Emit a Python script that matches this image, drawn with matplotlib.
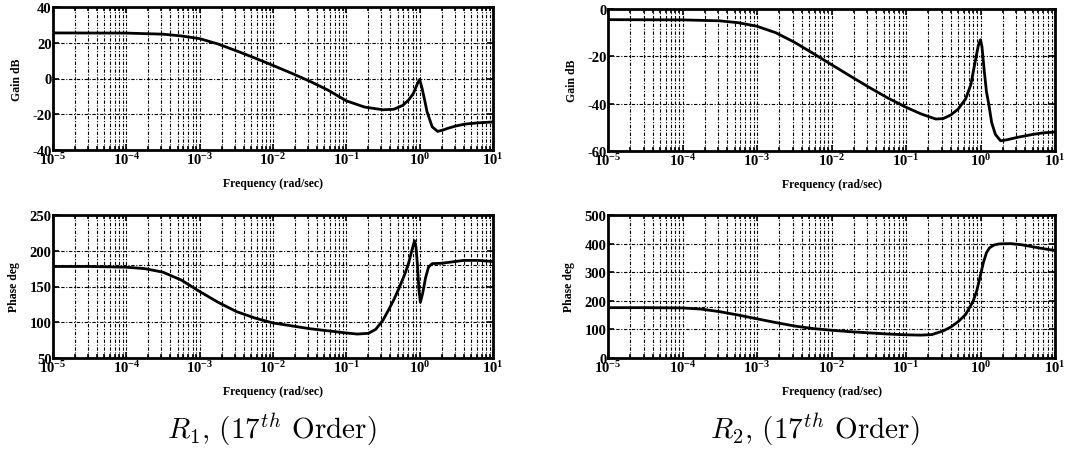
import numpy as np
import matplotlib
matplotlib.use("Agg")
import matplotlib.pyplot as plt
from matplotlib.ticker import LogLocator, NullFormatter

plt.rcParams['font.family'] = ['Liberation Serif', 'DejaVu Serif']
plt.rcParams['font.weight'] = 'bold'
plt.rcParams['mathtext.fontset'] = 'custom'
plt.rcParams['mathtext.rm'] = 'Liberation Serif:bold'
plt.rcParams['mathtext.it'] = 'Liberation Serif:bold'
plt.rcParams['mathtext.bf'] = 'Liberation Serif:bold'
plt.rcParams['axes.unicode_minus'] = False

# ---------------- data (log10 frequency, value) ----------------
r1_gain_logw = [-5, -4, -3.5, -3.25, -3.0, -2.75, -2.5, -2.25, -2.0, -1.75, -1.5, -1.25,
                -1.0, -0.75, -0.5, -0.35, -0.23, -0.15, -0.085, -0.03, 0.0, 0.033, 0.07,
                0.1, 0.17, 0.245, 0.32, 0.39, 0.5, 0.62, 0.8, 1.0]
r1_gain_db = [25.5, 25.4, 24.8, 23.8, 22.3, 19.3, 15.5, 11.5, 7.3, 3.0, -1.5, -6.5,
              -12.5, -16.0, -17.5, -17.2, -15.0, -12.0, -8.3, -2.8, -0.5, -5.5, -12.5,
              -18.5, -27.0, -29.6, -28.8, -27.8, -26.5, -25.5, -24.8, -24.3]

r2_gain_logw = [-5, -4.0, -3.5, -3.25, -3.0, -2.75, -2.5, -2.25, -2.0, -1.75, -1.5, -1.25,
                -1.0, -0.8, -0.6, -0.5, -0.4, -0.3, -0.2, -0.13, -0.07, -0.03, 0.0, 0.02,
                0.05, 0.08, 0.11, 0.15, 0.2, 0.27, 0.35, 0.5, 0.7, 0.85, 1.0]
r2_gain_db = [-4.5, -4.6, -5.0, -5.8, -7.3, -10.0, -14.0, -18.7, -23.5, -28.3, -33.0, -37.5,
              -41.5, -44.3, -46.5, -46.3, -44.8, -42.3, -38.0, -32.0, -22.0, -15.5, -13.0, -16.0,
              -26.0, -35.0, -40.0, -48.0, -53.0, -55.7, -55.3, -54.2, -53.0, -52.3, -52.0]

r1_phase_logw = [-5, -4.5, -4.0, -3.75, -3.5, -3.25, -3.0, -2.75, -2.5, -2.25, -2.0, -1.75,
                 -1.5, -1.25, -1.0, -0.85, -0.7, -0.6, -0.5, -0.42, -0.35, -0.28, -0.2,
                 -0.15, -0.1, -0.07, -0.05, -0.03, -0.01, 0.01, 0.04, 0.08, 0.12, 0.17,
                 0.3, 0.45, 0.6, 0.8, 1.0]
r1_phase_deg = [178, 178, 177, 175, 170, 159, 143, 128, 115, 106, 99, 95,
                91, 88, 85, 83.5, 84.5, 90, 103, 118, 132, 148, 168,
                183, 203, 214, 205, 180, 145, 128, 140, 162, 177, 182,
                182.5, 184.5, 186.5, 186.5, 185]

r2_phase_logw = [-5, -4.5, -4.0, -3.75, -3.5, -3.25, -3.0, -2.75, -2.5, -2.25, -2.0, -1.75,
                 -1.5, -1.25, -1.0, -0.8, -0.65, -0.5, -0.4, -0.3, -0.2, -0.1, -0.05, 0.0,
                 0.04, 0.08, 0.12, 0.18, 0.25, 0.4, 0.55, 0.7, 0.85, 1.0]
r2_phase_deg = [176, 176, 175, 171, 162, 150, 137, 124, 112, 103, 97, 92,
                88, 84, 81, 80, 82, 95, 108, 127, 152, 198, 235, 290,
                335, 368, 385, 395, 399, 400, 396, 389, 382, 376]

gain_yticks_1 = [-40, -20, 0, 20, 40]
gain_yticks_2 = [-60, -40, -20, 0]
phase_yticks_1 = [50, 100, 150, 200, 250]
phase_yticks_2 = [0, 100, 200, 300, 400, 500]
xdecades = [-5, -4, -3, -2, -1, 0, 1]

titles = [r"$R_1$, (17$^{th}$ Order)", r"$R_2$, (17$^{th}$ Order)"]

# ---------------- figure ----------------
W, H = 1073, 460
fig = plt.figure(figsize=(W / 100, H / 100), dpi=100)


def add_ax(x0, y0, x1, y1):
    return fig.add_axes([x0 / W, 1 - y1 / H, (x1 - x0) / W, (y1 - y0) / H])


GRID_LS = (0, (3, 1.5, 1, 1.5))


def style(ax, yticks, ylabel):
    ax.set_xscale('log')
    ax.set_xlim(1e-5, 1e1)
    ax.set_ylim(yticks[0], yticks[-1])
    ax.set_yticks(yticks)
    ax.set_yticklabels([str(v) for v in yticks])
    ax.xaxis.set_minor_locator(LogLocator(base=10, subs=np.arange(2, 10), numticks=100))
    ax.xaxis.set_minor_formatter(NullFormatter())
    ax.set_xticks([10.0 ** d for d in xdecades])
    ax.set_xticklabels([r"$10^{%d}$" % d for d in xdecades])
    ax.grid(which='both', axis='x', color='k', lw=0.8, ls=GRID_LS)
    ax.grid(which='major', axis='y', color='k', lw=0.8, ls=GRID_LS)
    ax.tick_params(which='both', direction='in', top=True, right=True, width=1.2,
                   labelsize=10.5, pad=1)
    ax.tick_params(which='major', length=4)
    ax.tick_params(which='minor', length=3)
    for s in ax.spines.values():
        s.set_linewidth(2)
    ax.set_xlabel("Frequency (rad/sec)", fontsize=8.5, fontweight='bold', labelpad=7)
    ax.set_ylabel(ylabel, fontsize=8.5, fontweight='bold', labelpad=7)


axs = {
    'g1': add_ax(53, 8, 493, 151),
    'g2': add_ax(608, 10, 1055, 152),
    'p1': add_ax(53, 216, 493, 359),
    'p2': add_ax(608, 216, 1055, 359),
}

lw = 2.0
axs['g1'].plot(10.0 ** np.array(r1_gain_logw), r1_gain_db, color='k', lw=lw)
axs['g2'].plot(10.0 ** np.array(r2_gain_logw), r2_gain_db, color='k', lw=lw)
axs['p1'].plot(10.0 ** np.array(r1_phase_logw), r1_phase_deg, color='k', lw=lw)
axs['p2'].plot(10.0 ** np.array(r2_phase_logw), r2_phase_deg, color='k', lw=lw)

style(axs['g1'], gain_yticks_1, "Gain dB")
style(axs['g2'], gain_yticks_2, "Gain dB")
style(axs['p1'], phase_yticks_1, "Phase deg")
style(axs['p2'], phase_yticks_2, "Phase deg")

for k in ('p1', 'p2'):
    axs[k].axhline(180, color='k', lw=0.8, ls=GRID_LS)

for cx, t in zip([272, 815], titles):
    fig.text(cx / W, 1 - 430 / H, t, fontsize=21, ha='center', va='center',
             family='cmr10', math_fontfamily='cm', fontweight='normal')

fig.savefig("out.png", dpi=100, facecolor='white')
